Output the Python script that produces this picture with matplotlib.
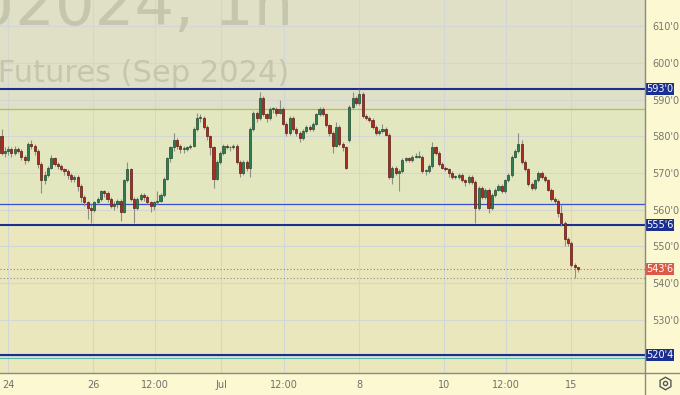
import matplotlib
matplotlib.use("Agg")
import matplotlib.pyplot as plt
from matplotlib.patches import Rectangle

# hourly candles, Wheat futures Sep 2024 (prices in cents/bu)
opens = [580, 575.5, 576, 576.5, 575.5, 576.5, 576, 574.5, 573.5, 578,
         577.5, 576, 572.5, 568, 569.5, 571.5, 574, 572.5, 572, 571,
         570.5, 569.5, 568.5, 569, 566.5, 563.5, 562, 560.5, 560, 562,
         563, 565, 564.5, 563, 561, 561.5, 562.5, 559.5, 568, 571,
         563, 560.5, 563, 564, 563.5, 562, 561, 562, 562.5, 564,
         568.5, 574, 577, 579, 577.5, 576.5, 576.5, 577, 577.5, 582,
         585, 585, 582.5, 580, 577, 568.5, 573, 575.5, 577.5, 577,
         577, 577.5, 573, 570, 573, 571.5, 582, 586.5, 585, 590.5,
         586, 585, 587.5, 587.5, 586.5, 587.5, 583.5, 581, 585, 582,
         581, 579.5, 581.5, 582.5, 582, 583.5, 586, 587.5, 586, 583,
         581, 577.5, 582.5, 578, 577, 579, 588, 590.5, 589, 591.5,
         585.5, 585, 584.5, 582.5, 581, 581.5, 582, 580.5, 569, 571.5,
         570, 570.5, 573.5, 574, 573.5, 574.5, 574.5, 574.5, 570.5, 570.5,
         572, 577, 575.5, 572.5, 571.5, 571, 570, 569, 569, 569.5,
         568, 567.5, 569, 567.5, 560.5, 566, 563.5, 565.5, 560.5, 564,
         565.5, 566.5, 565, 568, 569.5, 574.5, 576, 578, 573, 571,
         567, 566, 568, 570, 569, 568, 565.5, 563, 562.5, 559,
         556.5, 552, 551, 545, 544.5]
closes = [575.5, 576, 576.5, 575.5, 576.5, 576, 574.5, 573.5, 578, 577.5,
          576, 572.5, 568, 569.5, 571.5, 574, 572.5, 572, 571, 570.5,
          569.5, 568.5, 569, 566.5, 563.5, 562, 560.5, 560, 562, 563,
          565, 564.5, 563, 561, 561.5, 562.5, 559.5, 568, 571, 563,
          560.5, 563, 564, 563.5, 562, 561, 562, 562.5, 564, 568.5,
          574, 577, 579, 577.5, 576.5, 576.75, 577, 577.5, 582, 585,
          585.25, 582.5, 580, 577, 568.5, 573, 575.5, 577.5, 577, 577.25,
          577.5, 573, 570, 573, 571.5, 582, 586.5, 585, 590.5, 586,
          585, 587.5, 587.75, 586.5, 587.5, 583.5, 581, 585, 582, 581,
          579.5, 581.5, 582.5, 582, 583.5, 586, 587.5, 586, 583, 581,
          577.5, 582.5, 578, 577, 571.5, 588, 590.5, 589, 591.5, 585.5,
          585, 584.5, 582.5, 581, 581.5, 582, 580.5, 569, 571.5, 570,
          570.5, 573.5, 574, 573.5, 574.5, 574.75, 574.5, 570.5, 570.5, 572,
          577, 575.5, 572.5, 571.5, 571, 570, 569, 569.25, 569.5, 568,
          567.5, 569, 567.5, 560.5, 566, 563.5, 565.5, 560.5, 564, 565.5,
          566.5, 565, 568, 569.5, 574.5, 576, 578, 573, 571, 567,
          566, 568, 570, 569, 568, 565.5, 563, 562.5, 559, 556.5,
          552, 551, 545, 544.5, 543.75]
highs = [582, 577, 577.5, 577, 577.5, 577, 576.5, 575, 578.5, 579,
         578, 576.5, 573, 570.5, 572, 575, 574.5, 573, 572.5, 571.5,
         571, 570, 569.5, 569.5, 567, 564, 562.5, 561.5, 562.5, 563.5,
         565.5, 565.5, 565, 563.5, 562.5, 563, 563, 568.5, 573, 571.5,
         563.5, 563.5, 564.5, 564.5, 564, 562.5, 562.5, 565, 564.5, 569,
         574.5, 577.5, 581, 579.5, 578, 577.5, 577.5, 578, 582.5, 586.5,
         586, 585.5, 583, 580.5, 577.5, 573.5, 576, 578, 578, 577.5,
         578, 578, 573.5, 573.5, 573.5, 582.5, 587, 587, 592, 591,
         586.5, 588, 588, 588, 590, 588, 584, 585.5, 585.5, 582.5,
         581.5, 582, 583, 583, 584, 586.5, 588, 588, 586.5, 583.5,
         581.5, 584, 583, 578.5, 577.5, 588.5, 592, 591, 593, 592,
         586, 585.5, 585, 583, 582, 583.5, 582.5, 581, 572, 572,
         571, 574, 574.5, 574.5, 575, 575.5, 576, 575, 571, 572.5,
         578.5, 577.5, 576, 573, 572, 571.5, 570.5, 569.5, 570, 570,
         568.5, 569.5, 569.5, 568, 566.5, 566.5, 566, 566, 564.5, 566,
         567, 567, 568.5, 570, 575, 576.5, 581, 579, 573.5, 571.5,
         567.5, 568.5, 570.5, 570.5, 569.5, 568.5, 566, 563.5, 563, 561.5,
         557, 552.5, 551.5, 545.5, 544.5]
lows = [575, 574.5, 575, 574.5, 575, 575.5, 573.5, 572.5, 573, 576.5,
        575, 571.5, 564.5, 567, 569, 571, 572, 571, 570.5, 569.5,
        568.5, 567.5, 567.5, 565, 562, 561, 557.5, 556.5, 559.5, 561.5,
        562.5, 563.5, 562, 560.5, 560, 560.5, 557, 559, 567.5, 562.5,
        556.5, 560, 562.5, 562.5, 561.5, 559.5, 560, 561.5, 562, 563.5,
        568, 573, 576, 576.5, 575.5, 575.5, 576, 576.5, 577, 581.5,
        584, 582, 579, 575, 566, 568, 572.5, 575, 576.5, 576,
        576.5, 572.5, 569, 569.5, 570.5, 569, 581.5, 584, 584.5, 585.5,
        584, 584.5, 586.5, 585.5, 586, 583, 580, 580.5, 581.5, 580,
        578.5, 579, 581, 581.5, 581.5, 583, 585.5, 585.5, 582.5, 580,
        575.5, 577, 577.5, 576, 571, 578.5, 587.5, 588.5, 588.5, 585,
        584.5, 584, 582, 580.5, 580.5, 581, 580, 568.5, 567, 569.5,
        565, 570, 573, 573, 573, 574, 574, 570, 569.5, 570,
        571.5, 575, 572, 571, 570.5, 569, 568.5, 568.5, 568.5, 567.5,
        566.5, 567, 567, 556.5, 560, 563, 563, 559, 560, 563.5,
        565, 564.5, 564.5, 567.5, 569, 574, 575.5, 572.5, 570.5, 566.5,
        565.5, 565.5, 567.5, 568.5, 567.5, 565, 562.5, 561.5, 558, 555.5,
        550, 550, 544.5, 541.5, 543]

tick_bars = [1.96, 27.6, 46.3, 66.3, 85.3, 107.9, 133.6, 152.3, 171.9]
tick_labels = ["24", "26", "12:00", "Jul", "12:00", "8", "10", "12:00", "15"]

price_ticks = [520, 530, 540, 550, 560, 570, 580, 590, 600, 610]
level_prices = [593.0, 555.75, 520.5]
level_labels = ["593'0", "555'6", "520'4"]
last_price = 543.75
last_label = "543'6"

W, H = 680, 395
fig = plt.figure(figsize=(W / 100, H / 100), dpi=100)
fig.patch.set_facecolor("#fcf8d2")
ax = fig.add_axes([0, 22 / H, 645 / W, 373 / H])
ax.set_facecolor("#e9e6bc")

step = 3.313
ax.set_xlim(-1.5 / step, 643.5 / step)
ax.set_ylim(515.5, 617.2)

# background zones
ax.axhspan(587.5, 620, color="#e0e0c6", zorder=0, lw=0)
ax.axhspan(561.6, 587.5, color="#e3e7c0", zorder=0, lw=0)
ax.axhspan(510, 561.6, color="#ebe7bc", zorder=0, lw=0)

# grid
for p in price_ticks:
    ax.axhline(p, color="#d2d7d6", lw=0.8, zorder=0.5)
for t in tick_bars:
    ax.axvline(t, color="#d2d7d6", lw=0.8, zorder=0.5)

# watermark
ax.text(293 / W, 1 - 25 / H, "ZWU2024, 1h", transform=fig.transFigure,
        ha="right", va="baseline", fontsize=45, color="#c6c6ae", zorder=0.6)
ax.text(289 / W, 1 - 82 / H, "Wheat Futures (Sep 2024)", transform=fig.transFigure,
        ha="right", va="baseline", fontsize=22, color="#c6c6ae", zorder=0.6)

# levels
ax.axhline(587.5, color="#a9c44a", lw=0.9, zorder=1)
ax.axhline(561.6, color="#3b4fd6", lw=0.9, zorder=1)
ax.axhline(519.5, color="#5cb8a4", lw=0.8, zorder=1)
for p in level_prices:
    ax.axhline(p, color="#1a2f90", lw=1.5, zorder=1)
ax.axhline(541.5, color="#909088", lw=0.8, ls=(0, (1, 2)), zorder=1)
ax.axhline(last_price, color="#e0604c", lw=0.8, ls=(0, (1, 2)), zorder=1)

# candles
xs = list(range(len(closes)))
for i in xs:
    o, c, h, l = opens[i], closes[i], highs[i], lows[i]
    up = c >= o
    ax.vlines(i, l, h, color="#8f8f88", lw=0.8, zorder=2)
    body_lo = min(o, c)
    body_h = max(abs(c - o), 0.25)
    ax.add_patch(Rectangle((i - 0.32, body_lo), 0.64, body_h,
                           facecolor="#2f7d52" if up else "#ad2a20",
                           edgecolor="#1e4a30" if up else "#5e1a14",
                           lw=0.5, zorder=3))

# axes styling
for s in ax.spines.values():
    s.set_visible(False)
ax.yaxis.tick_right()
ax.set_yticks(price_ticks)
# 520'0 sits under the 520'4 tag
ax.set_yticklabels(["" if p == 520 else f"{p}'0" for p in price_ticks])
ax.set_xticks(tick_bars)
ax.set_xticklabels(tick_labels)
ax.tick_params(axis="y", length=0, pad=5.5, labelsize=7, colors="#75776e")
ax.tick_params(axis="x", length=0, pad=5, labelsize=7, colors="#6f716a")

# price tags on the right scale
tr = ax.get_yaxis_transform()
half = 6 / 3.67
for p, lab in zip(level_prices, level_labels):
    ax.add_patch(Rectangle((1.0, p - half), 29 / 645, 2 * half, transform=tr,
                           facecolor="#1a2f90", edgecolor="none", clip_on=False, zorder=5))
    ax.text(1.0 + 14.5 / 645, p, lab, transform=tr, ha="center", va="center",
            fontsize=7, color="white", clip_on=False, zorder=6)
ax.add_patch(Rectangle((1.0, last_price - half), 29 / 645, 2 * half, transform=tr,
                       facecolor="#dd5a48", edgecolor="none", clip_on=False, zorder=5))
ax.text(1.0 + 14.5 / 645, last_price, last_label, transform=tr, ha="center", va="center",
        fontsize=7, color="white", clip_on=False, zorder=6)

# panel separators
fig.add_artist(plt.Line2D([645 / W, 645 / W], [0, 1], color="#8a8a84", lw=1))
fig.add_artist(plt.Line2D([0, 1], [22 / H, 22 / H], color="#8a8a84", lw=1))

# settings gear
fig.add_artist(plt.Line2D([665 / W], [1 - 383 / H], marker="h", ms=9, mfc="none",
                          mec="#555555", mew=1, ls="none"))
fig.add_artist(plt.Line2D([665 / W], [1 - 383 / H], marker="o", ms=3, mfc="none",
                          mec="#555555", mew=1, ls="none"))

fig.savefig("out.png", dpi=100)
